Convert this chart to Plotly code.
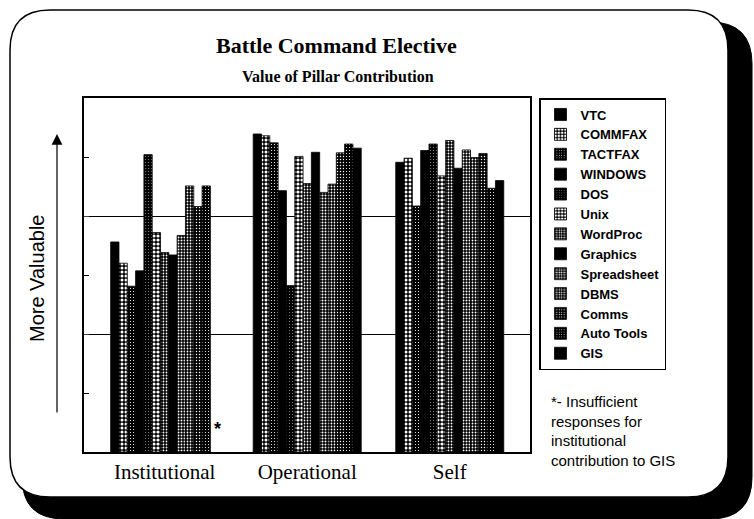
import plotly.graph_objects as go

# Categories and series (value scale 0-6, arbitrary units)
pillars = ['Institutional', 'Operational', 'Self']
tools = ['VTC', 'COMMFAX', 'TACTFAX', 'WINDOWS', 'DOS', 'Unix', 'WordProc',
         'Graphics', 'Spreadsheet', 'DBMS', 'Comms', 'Auto Tools', 'GIS']

vtc = [3.56, 5.39, 4.91]
commfax = [3.20, 5.36, 4.98]
tactfax = [2.81, 5.24, 4.17]
windows = [3.07, 4.43, 5.11]
dos = [5.04, 2.82, 5.22]
unix = [3.72, 5.01, 4.68]
wordproc = [3.38, 4.55, 5.28]
graphics = [3.34, 5.08, 4.81]
spreadsheet = [3.67, 4.40, 5.12]
dbms = [4.51, 4.54, 4.99]
comms = [4.16, 5.07, 5.06]
auto_tools = [4.51, 5.22, 4.47]
gis = [None, 5.15, 4.60]  # insufficient responses for institutional

values = [vtc, commfax, tactfax, windows, dos, unix, wordproc,
          graphics, spreadsheet, dbms, comms, auto_tools, gis]

# halftone look of each series: None = solid black, else (size, solidity) of white dots
fills = [None, (4, 0.45), (3, 0.12), None, (3, 0.06),
         (4, 0.5), (3, 0.28), None, (3, 0.35),
         (3, 0.28), (3, 0.18), (3, 0.12), None]

W, H = 754, 519
L, R, T, B = 84, 530, 98, 452  # plot area in pixels


def px(x, y):
    # pixel -> paper coordinates
    return (x - L) / (R - L), (B - y) / (B - T)


def rounded_rect(x0, y0, x1, y1, r):
    pts = [('M', x0 + r, y0), ('L', x1 - r, y0), ('Q', x1, y0, x1, y0 + r),
           ('L', x1, y1 - r), ('Q', x1, y1, x1 - r, y1), ('L', x0 + r, y1),
           ('Q', x0, y1, x0, y1 - r), ('L', x0, y0 + r), ('Q', x0, y0, x0 + r, y0)]
    path = ''
    for p in pts:
        coords = []
        for i in range(1, len(p), 2):
            a, b = px(p[i], p[i + 1])
            coords.append('%.4f,%.4f' % (a, b))
        path += p[0] + ' '.join(coords) + ' '
    return path + 'Z'


def note(x, y, text, size, family='Liberation Sans', **kw):
    ax, ay = px(x, y)
    fig.add_annotation(x=ax, y=ay, xref='paper', yref='paper', showarrow=False, text=text,
                       xanchor=kw.pop('xanchor', 'center'), yanchor=kw.pop('yanchor', 'middle'),
                       font=dict(family=family, size=size, color='black'), **kw)


fig = go.Figure()
for name, vals, f in zip(tools, values, fills):
    if f is None:
        marker = dict(color='black', line=dict(color='black', width=0.8))
    else:
        marker = dict(color='black', line=dict(color='black', width=0.8),
                      pattern=dict(shape='.', size=f[0], solidity=f[1],
                                   bgcolor='black', fgcolor='white', fillmode='replace'))
    fig.add_trace(go.Bar(x=pillars, y=vals, name=name, marker=marker))

# frame with drop shadow
fig.add_shape(type='path', path=rounded_rect(22, 22, 752, 519, 42), xref='paper', yref='paper',
              fillcolor='black', line=dict(color='black', width=1), layer='below')
fig.add_shape(type='path', path=rounded_rect(10, 10, 728, 497, 40), xref='paper', yref='paper',
              fillcolor='white', line=dict(color='black', width=1.5), layer='below')

# titles
note(336, 45, '<b>Battle Command Elective</b>', 22, 'Liberation Serif')
note(338, 76, '<b>Value of Pillar Contribution</b>', 16, 'Liberation Serif')

# y label and arrow
note(37, 279, 'More Valuable', 20, textangle=-90)
ax, ay = px(57, 134)
fig.add_annotation(x=ax, y=ay, xref='paper', yref='paper', text='', showarrow=True,
                   ax=0, ay=280, arrowhead=2, arrowsize=1.8, arrowwidth=1.2, arrowcolor='black')

# missing GIS marker and footnote
note(217, 429, '<b>*</b>', 18)
note(549, 391, '*- Insufficient<br>responses for<br>institutional<br>contribution to GIS', 15,
     xanchor='left', yanchor='top', align='left')

lx, ly = px(539, 98)
fig.update_layout(
    width=W, height=H,
    margin=dict(l=L, r=W - R, t=T, b=H - B, pad=0),
    paper_bgcolor='white', plot_bgcolor='white',
    barmode='group', bargap=0.242, bargroupgap=0,
    legend=dict(x=lx, y=ly, xanchor='left', yanchor='top', bordercolor='black', borderwidth=1.5,
                bgcolor='white', tracegroupgap=0,
                font=dict(family='Liberation Sans', size=13, color='black', weight='bold')),
    font=dict(family='Liberation Serif', color='black'),
)
fig.update_xaxes(range=[-0.566, 2.563], showline=True, mirror=True, linecolor='black', linewidth=1.5,
                 ticks='', tickfont=dict(family='Liberation Serif', size=21, color='black'))
fig.update_yaxes(range=[0, 6], showline=True, mirror=True, linecolor='black', linewidth=1.5,
                 tickvals=[2, 4], ticks='inside', ticklen=5, showticklabels=False,
                 showgrid=True, gridcolor='black', gridwidth=1, zeroline=False,
                 minor=dict(tickvals=[1, 3, 5], ticks='inside', ticklen=5, tickcolor='black',
                            showgrid=False))

# drop the default page margin so the figure sits at the window origin
fig.write_html('out.html', config={'displayModeBar': False},
               post_script="document.body.style.margin='0px';")
